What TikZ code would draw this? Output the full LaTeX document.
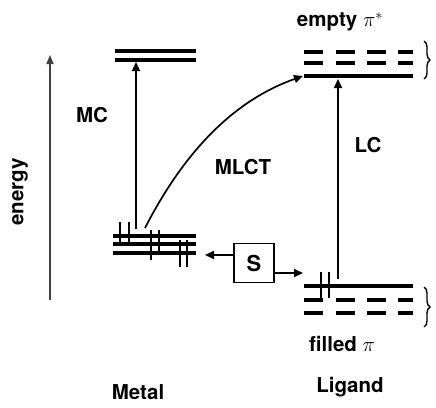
\documentclass[tikz,border=0pt]{standalone}
\usepackage{fontspec}
\setmainfont{TeX Gyre Heros}
\usetikzlibrary{arrows.meta,decorations.pathreplacing}
\begin{document}
\begin{tikzpicture}[x=1pt,y=-1pt,
		level/.style={line width=3.4pt},
		spin/.style={line width=2pt},
		trans/.style={line width=1.7pt,-{Triangle[length=9pt,width=8pt]}},
		lbl/.style={font=\fontsize{20.5}{23}\selectfont\bfseries},
		cbrace/.style={line width=1.4pt,decorate,decoration={brace,amplitude=6pt}}]
		\useasboundingbox (0,0) rectangle (436,407);
		% energy axis
		\coordinate (ebot) at (50,300);
		\coordinate (etop) at (50,55);
		\draw[line width=1.6pt,-{Triangle[length=9pt,width=7pt]},black!75] (ebot) -- (etop);
		\node[lbl,rotate=90] (energy) at (20,192) {energy};
		% metal levels
		\draw[level] (115,51) -- (196,51);
		\draw[level] (115,60) -- (196,60);
		\foreach \ylev in {236,244,253}{
			\draw[level] (113,\ylev) -- (196,\ylev);
		}
		\foreach \xa/\ya/\yb in {120/222/243, 129/222/243, 151/230/260, 159/230/253, 180/240/267, 187/240/267}{
			\draw[spin] (\xa,\ya) -- (\xa,\yb);
		}
		% ligand levels
		\draw[level] (304,76) -- (413,76);
		\draw[level] (304,286) -- (413,286);
		\foreach \ylev in {52,63,300,313}{
			\foreach \xa/\xb in {304/323,336/355,367/386,398/413}{
				\draw[level] (\xa,\ylev) -- (\xb,\ylev);
			}
		}
		\draw[spin] (321,272) -- (321,298);
		\draw[spin] (329,272) -- (329,298);
		\draw[cbrace] (424,41) -- (424,79);
		\draw[cbrace] (424,287) -- (424,327);
		% transitions
		\coordinate (mcs) at (136,229);
		\coordinate (mce) at (136,62);
		\coordinate (mls) at (145,228);
		\coordinate (mle) at (303,76);
		\coordinate (lcs) at (338,279);
		\coordinate (lce) at (338,79);
		\draw[trans] (mcs) -- (mce);
		\draw[trans] (mls) .. controls (185,150) and (235,100) .. (mle);
		\draw[trans] (lcs) -- (lce);
		\node[lbl] (mc) at (92,115) {MC};
		\node[lbl] (mlct) at (243,167) {MLCT};
		\node[lbl] (lc) at (368,145) {LC};
		% solvent box
		\node[draw,line width=1.6pt,minimum width=40pt,minimum height=39pt,font=\fontsize{22}{24}\selectfont\bfseries] (solv) at (254,263) {S};
		\coordinate (sl) at (205,255);
		\coordinate (sr) at (303,273);
		\draw[trans] (solv.west |- sl) -- (sl);
		\draw[trans] (solv.east |- sr) -- (sr);
		% captions
		\node[lbl] (empty) at (340,22) {empty $\pi^{*}$};
		\node[lbl] (filled) at (342,344) {filled $\pi$};
		\node[lbl] (metal) at (138,392) {Metal};
		\node[lbl] (ligand) at (350,387) {Ligand};
	\end{tikzpicture}
\end{document}
